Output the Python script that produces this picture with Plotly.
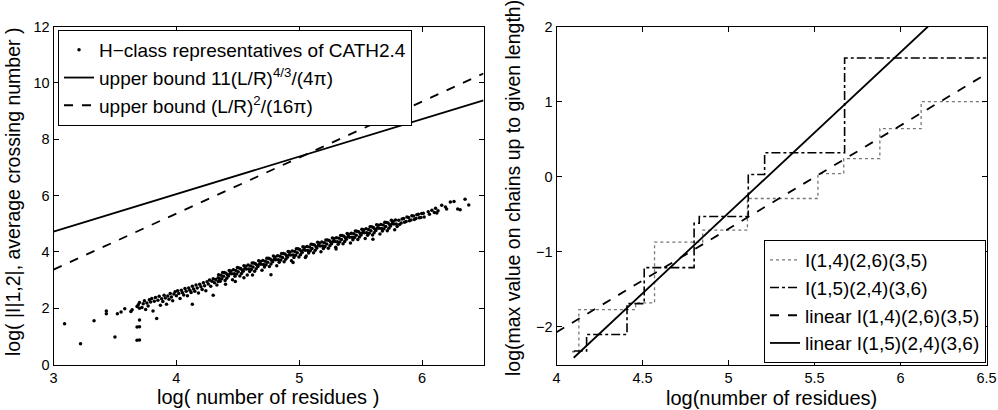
import plotly.graph_objects as go

# ---------------- Left panel data ----------------
# H-class representatives of CATH2.4: (log residues, log average crossing number)
h_class_points = [
    (3.09, 1.45), (3.22, 0.74), (3.33, 1.55), (3.43, 1.90), (3.43, 1.80), (3.50, 0.98), (3.52, 1.80),
    (3.55, 1.86), (3.58, 1.98), (3.63, 1.88), (3.64, 1.94), (3.68, 1.33), (3.68, 0.86), (3.70, 0.87),
    (3.70, 1.34), (3.70, 1.58), (3.68, 2.06), (3.69, 2.12), (3.70, 2.20), (3.70, 2.00), (3.72, 2.02),
    (3.73, 2.16), (3.74, 2.26), (3.75, 1.95), (3.76, 2.18), (3.77, 2.08), (3.78, 2.30), (3.79, 2.22),
    (3.80, 2.34), (3.81, 1.90), (3.82, 2.25), (3.83, 2.38), (3.84, 1.63), (3.85, 2.28), (3.86, 2.42),
    (3.87, 2.10), (3.88, 2.33), (3.89, 2.24), (3.90, 2.46), (3.91, 2.36), (3.92, 2.14), (3.93, 2.43),
    (3.94, 2.32), (3.95, 2.52), (3.96, 2.40), (3.97, 2.26), (3.98, 2.50), (3.99, 2.58), (4.00, 2.44),
    (4.01, 2.62), (4.02, 2.52), (4.03, 2.34), (4.04, 2.64), (4.05, 2.55), (4.06, 2.47), (4.07, 2.70),
    (4.08, 2.60), (4.09, 2.44), (4.10, 2.72), (4.11, 2.64), (4.12, 2.56), (4.13, 2.14), (4.13, 2.78),
    (4.14, 2.68), (4.15, 2.60), (4.16, 2.82), (4.17, 2.72), (4.18, 2.54), (4.19, 2.85), (4.20, 2.76),
    (4.21, 2.66), (4.22, 2.90), (4.23, 2.80), (4.24, 2.62), (4.25, 2.94), (4.26, 2.86), (4.27, 3.00),
    (4.28, 2.78), (4.29, 2.96), (4.30, 2.46), (4.30, 3.04), (4.31, 2.90), (4.32, 3.02), (4.33, 2.82),
    (4.34, 3.08), (4.34, 2.95),
    (4.344, 3.19), (4.35, 3.05), (4.357, 2.96), (4.364, 3.17), (4.37, 3.04), (4.377, 3.27),
    (4.384, 3.13), (4.39, 3.27), (4.397, 2.98), (4.404, 3.24), (4.41, 3.06), (4.417, 3.18),
    (4.424, 3.14), (4.43, 3.34), (4.437, 3.23), (4.444, 3.32), (4.45, 3.22), (4.457, 3.01),
    (4.464, 3.36), (4.47, 3.22), (4.477, 3.13), (4.484, 3.34), (4.49, 3.21), (4.497, 3.44),
    (4.504, 3.29), (4.51, 3.43), (4.517, 3.14), (4.524, 3.41), (4.53, 3.23), (4.537, 3.35),
    (4.544, 3.31), (4.55, 3.51), (4.557, 3.40), (4.564, 3.49), (4.57, 3.39), (4.577, 3.18),
    (4.584, 3.53), (4.59, 3.39), (4.597, 3.30), (4.604, 3.50), (4.61, 3.37), (4.617, 3.60),
    (4.624, 3.46), (4.63, 3.60), (4.637, 3.31), (4.644, 3.58), (4.65, 3.40), (4.657, 3.52),
    (4.664, 3.48), (4.67, 3.68), (4.677, 3.57), (4.684, 3.66), (4.69, 3.56), (4.697, 3.35),
    (4.704, 3.69), (4.71, 3.55), (4.717, 3.46), (4.724, 3.67), (4.73, 3.54), (4.737, 3.77),
    (4.744, 3.63), (4.75, 3.77), (4.757, 3.48), (4.764, 3.75), (4.77, 3.57), (4.777, 3.69),
    (4.77, 3.19), (4.784, 3.65), (4.79, 3.85), (4.797, 3.74), (4.804, 3.82), (4.81, 3.72),
    (4.817, 3.51), (4.824, 3.86), (4.83, 3.72), (4.837, 3.63), (4.844, 3.84), (4.85, 3.71),
    (4.857, 3.94), (4.864, 3.80), (4.87, 3.94), (4.877, 3.65), (4.884, 3.92), (4.89, 3.74),
    (4.897, 3.86), (4.904, 3.81), (4.91, 4.01), (4.917, 3.90), (4.924, 3.99), (4.93, 3.89),
    (4.937, 3.68), (4.944, 4.03), (4.95, 3.89), (4.957, 3.80), (4.964, 4.01), (4.97, 3.88),
    (4.977, 4.11), (4.984, 3.97), (4.99, 4.11), (4.997, 3.82), (5.004, 4.08), (5.01, 3.90),
    (5.017, 4.02), (5.024, 3.98), (5.03, 4.18), (5.037, 4.07), (5.044, 4.16), (5.05, 4.06),
    (5.057, 3.85), (5.064, 4.19), (5.07, 4.05), (5.077, 3.96), (5.084, 4.17), (5.09, 4.04),
    (5.097, 4.27), (5.104, 4.12), (5.11, 4.26), (5.117, 3.97), (5.124, 4.24), (5.13, 4.06),
    (5.137, 4.18), (5.144, 4.14), (5.15, 4.34), (5.157, 4.23), (5.164, 4.31), (5.17, 4.21),
    (5.177, 4.00), (5.184, 4.35), (5.19, 4.21), (5.197, 4.12), (5.204, 4.32), (5.21, 4.19),
    (5.217, 4.42), (5.224, 4.28), (5.23, 4.42), (5.237, 4.13), (5.244, 4.40), (5.25, 4.22),
    (5.257, 4.34), (5.264, 4.29), (5.27, 4.49), (5.277, 4.38), (5.284, 4.47), (5.29, 4.37),
    (5.297, 4.16), (5.304, 4.50), (5.31, 4.36), (5.317, 4.27), (5.324, 4.48), (5.33, 4.35),
    (5.337, 4.58), (5.344, 4.44), (5.35, 4.58), (5.357, 4.29), (5.364, 4.55), (5.37, 4.37),
    (5.377, 4.49), (5.384, 4.45), (5.39, 4.65), (5.397, 4.54), (5.404, 4.62), (5.41, 4.52),
    (5.417, 4.31), (5.424, 4.66), (5.43, 4.52), (5.437, 4.43), (5.444, 4.64), (5.45, 4.51),
    (5.457, 4.74), (5.464, 4.59), (5.47, 4.73), (5.477, 4.44), (5.484, 4.71), (5.49, 4.53),
    (5.497, 4.65), (5.504, 4.60), (5.51, 4.80), (5.517, 4.69), (5.524, 4.78), (5.53, 4.68),
    (5.537, 4.47), (5.544, 4.82), (5.55, 4.68), (5.557, 4.59), (5.564, 4.79), (5.57, 4.66),
    (5.577, 4.89), (5.584, 4.75), (5.59, 4.89), (5.597, 4.60), (5.604, 4.86), (5.61, 4.68),
    (5.617, 4.80), (5.624, 4.76), (5.63, 4.96), (5.637, 4.85), (5.644, 4.94), (5.65, 4.84),
    (5.657, 4.63), (5.664, 4.97), (5.67, 4.83), (5.677, 4.74), (5.684, 4.95), (5.69, 4.82),
    (5.697, 5.05), (5.704, 4.90), (5.71, 5.04), (5.717, 4.75), (5.724, 5.02), (5.73, 4.84),
    (5.737, 4.96), (5.744, 4.92), (5.75, 5.12), (5.757, 5.01), (5.764, 5.09), (5.77, 4.99),
    (5.777, 4.78), (5.784, 5.13), (5.79, 4.99), (5.797, 4.90),
    (5.81, 5.12), (5.817, 4.97), (5.83, 5.02), (5.837, 5.17), (5.85, 5.18), (5.857, 5.05),
    (5.87, 5.08), (5.877, 5.24), (5.89, 5.22), (5.897, 5.10), (5.91, 5.13), (5.917, 5.28),
    (5.93, 5.27), (5.937, 5.15), (5.95, 5.18), (5.957, 5.32), (5.97, 5.33), (5.977, 5.21),
    (5.99, 5.22), (5.997, 5.36), (6.01, 5.37), (6.017, 5.24),
    (6.05, 5.42), (6.06, 5.33), (6.08, 5.48), (6.10, 5.40), (6.11, 5.55), (6.12, 5.38),
    (6.13, 5.46), (6.16, 5.65), (6.19, 5.59), (6.20, 5.52), (6.23, 5.77), (6.26, 5.79),
    (6.29, 5.52), (6.31, 5.49), (6.35, 5.87), (6.38, 5.66),
    (4.40, 2.85), (4.48, 2.95), (4.55, 3.08), (4.62, 3.18), (4.95, 3.62), (5.05, 3.80),
    (5.30, 4.10), (5.60, 4.45),
]
h_class_x = [p[0] for p in h_class_points]
h_class_y = [p[1] for p in h_class_points]

bound43_x = [3.0, 6.5]
bound43_y = [4.72, 9.38]
bound2_x = [3.0, 6.5]
bound2_y = [3.37, 10.33]

# ---------------- Right panel data ----------------
i146_x = [4.09, 4.13, 4.46, 4.57, 4.85, 5.11, 5.52, 5.67, 5.88, 6.12, 6.5]
i146_y = [-2.33, -1.77, -1.68, -0.87, -0.71, -0.29, 0.04, 0.24, 0.64, 1.00, 1.00]
i156_x = [4.10, 4.175, 4.41, 4.51, 4.80, 4.83, 5.115, 5.21, 5.675, 6.5]
i156_y = [-2.32, -2.10, -1.69, -1.21, -0.62, -0.53, 0.03, 0.32, 1.58, 1.58]
lin146_x = [4.0, 6.5]
lin146_y = [-2.07, 1.37]
lin156_x = [4.10, 6.16]
lin156_y = [-2.41, 2.0]

W, H = 998, 410
FONT = "Liberation Sans, Arial, Helvetica, sans-serif"

fig = go.Figure()

# left traces
fig.add_trace(go.Scatter(x=h_class_x, y=h_class_y, mode="markers",
                         marker=dict(size=3.5, color="black"),
                         name="H\u2212class representatives of CATH2.4",
                         xaxis="x", yaxis="y", legend="legend"))
fig.add_trace(go.Scatter(x=bound43_x, y=bound43_y, mode="lines",
                         line=dict(color="black", width=1.8),
                         name="upper bound 11(L/R)<sup>4/3</sup>/(4\u03c0)",
                         xaxis="x", yaxis="y", legend="legend"))
fig.add_trace(go.Scatter(x=bound2_x, y=bound2_y, mode="lines",
                         line=dict(color="black", width=1.8, dash="dash"),
                         name="upper bound (L/R)<sup>2</sup>/(16\u03c0)",
                         xaxis="x", yaxis="y", legend="legend"))

# right traces
fig.add_trace(go.Scatter(x=i146_x, y=i146_y, mode="lines", line_shape="hv",
                         line=dict(color="#777777", width=1.3, dash="dot"),
                         name="I(1,4)(2,6)(3,5)", xaxis="x2", yaxis="y2", legend="legend2"))
fig.add_trace(go.Scatter(x=i156_x, y=i156_y, mode="lines", line_shape="hv",
                         line=dict(color="black", width=1.6, dash="dashdot"),
                         name="I(1,5)(2,4)(3,6)", xaxis="x2", yaxis="y2", legend="legend2"))
fig.add_trace(go.Scatter(x=lin146_x, y=lin146_y, mode="lines",
                         line=dict(color="black", width=1.8, dash="dash"),
                         name="linear I(1,4)(2,6)(3,5)", xaxis="x2", yaxis="y2", legend="legend2"))
fig.add_trace(go.Scatter(x=lin156_x, y=lin156_y, mode="lines",
                         line=dict(color="black", width=1.8),
                         name="linear I(1,5)(2,4)(3,6)", xaxis="x2", yaxis="y2", legend="legend2"))

axis_common = dict(showline=True, mirror="ticks", linecolor="black", linewidth=1,
                   ticks="inside", ticklen=5, tickcolor="black", showgrid=False,
                   zeroline=False, automargin=False,
                   tickfont=dict(family=FONT, size=14.5, color="black"))

y_top = 1 - 26.5 / H
y_bot = 1 - 364.5 / H

fig.update_layout(
    width=W, height=H,
    margin=dict(l=0, r=0, t=0, b=0),
    paper_bgcolor="white", plot_bgcolor="white",
    font=dict(family=FONT, color="black"),
    showlegend=True,
    xaxis=dict(domain=[53.5 / W, 483.5 / W], range=[3, 6.5], tickvals=[3, 4, 5, 6],
               anchor="y", **axis_common),
    yaxis=dict(domain=[y_bot, y_top], range=[0, 12], tickvals=[0, 2, 4, 6, 8, 10, 12],
               anchor="x", **axis_common),
    xaxis2=dict(domain=[556.5 / W, 986.5 / W], range=[4, 6.5],
                tickvals=[4, 4.5, 5, 5.5, 6, 6.5], anchor="y2", **axis_common),
    yaxis2=dict(domain=[y_bot, y_top], range=[-2.5, 2], tickvals=[-2, -1, 0, 1, 2],
                ticktext=["\u22122", "\u22121", "0", "1", "2"], anchor="x2", **axis_common),
    legend=dict(x=58 / W, y=1 - 30 / H, xanchor="left", yanchor="top",
                bgcolor="white", bordercolor="black", borderwidth=1,
                font=dict(family=FONT, size=19, color="black"),
                tracegroupgap=0, itemwidth=30),
    legend2=dict(x=986 / W, y=1 - 363 / H, xanchor="right", yanchor="bottom",
                 bgcolor="white", bordercolor="black", borderwidth=1,
                 font=dict(family=FONT, size=19, color="black"),
                 tracegroupgap=0, itemwidth=30),
    annotations=[
        dict(text="log( number of residues )", x=268 / W, y=1 - 397 / H,
             xanchor="center", yanchor="middle",
             xref="paper", yref="paper", showarrow=False,
             font=dict(family=FONT, size=20, color="black")),
        dict(text="log(number of residues)", x=771 / W, y=1 - 398 / H,
             xanchor="center", yanchor="middle",
             xref="paper", yref="paper", showarrow=False,
             font=dict(family=FONT, size=20, color="black")),
        dict(text="log( |I|1,2|, average crossing number )", x=13 / W, y=1 - 192 / H,
             xanchor="center", yanchor="middle",
             xref="paper", yref="paper", showarrow=False, textangle=-90,
             font=dict(family=FONT, size=19.5, color="black")),
        dict(text="log(max value on chains up to given length)", x=513 / W, y=1 - 188 / H,
             xanchor="center", yanchor="middle",
             xref="paper", yref="paper", showarrow=False, textangle=-90,
             font=dict(family=FONT, size=19.5, color="black")),
    ],
)

fig.write_html(
    "out.html",
    config={"displayModeBar": False},
    post_script="document.body.style.margin='0';document.body.style.overflow='hidden';",
)
